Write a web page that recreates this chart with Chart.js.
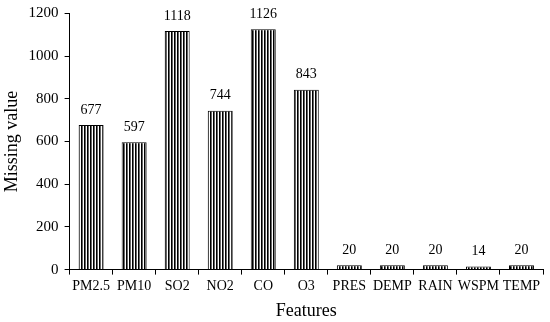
<!DOCTYPE html>
<html>
<head>
<meta charset="utf-8">
<script src="https://cdn.jsdelivr.net/npm/chart.js@4.4.1/dist/chart.umd.min.js"></script>
<style>
  html, body { margin: 0; padding: 0; background: #fff; }
  #wrap { width: 550px; height: 322px; }
</style>
</head>
<body>
<div id="wrap"><canvas id="chart"></canvas></div>
<script>
// chart data
const features = ['PM2.5', 'PM10', 'SO2', 'NO2', 'CO', 'O3', 'PRES', 'DEMP', 'RAIN', 'WSPM', 'TEMP'];
const missingValues = [677, 597, 1118, 744, 1126, 843, 20, 20, 20, 14, 20];
const yTicks = [0, 200, 400, 600, 800, 1000, 1200];

const serif = '"Liberation Serif", "Times New Roman", serif';

// vertical stripe fill
function stripePattern(ctx) {
    const c = document.createElement('canvas');
    c.width = 3;
    c.height = 8;
    const p = c.getContext('2d');
    p.fillStyle = '#fff';
    p.fillRect(0, 0, 3, 8);
    p.fillStyle = '#000';
    p.fillRect(0, 0, 1, 8);
    p.fillStyle = '#666';
    p.fillRect(1, 0, 1, 8);
    return ctx.createPattern(c, 'repeat');
}

// value labels above bars
const valueLabels = {
    id: 'valueLabels',
    afterDatasetsDraw(chart) {
        const ctx = chart.ctx;
        const meta = chart.getDatasetMeta(0);
        ctx.save();
        ctx.font = '14px ' + serif;
        ctx.fillStyle = '#000';
        ctx.textAlign = 'center';
        ctx.textBaseline = 'bottom';
        meta.data.forEach((bar, i) => {
            ctx.fillText(String(missingValues[i]), bar.x, bar.y - 8);
        });
        ctx.restore();
    }
};

const canvas = document.getElementById('chart');
const ctx = canvas.getContext('2d');

new Chart(canvas, {
    type: 'bar',
    data: {
        labels: features,
        datasets: [{
            data: missingValues,
            backgroundColor: stripePattern(ctx),
            borderColor: '#000',
            borderWidth: 1,
            categoryPercentage: 1,
            barPercentage: 0.58
        }]
    },
    options: {
        responsive: true,
        maintainAspectRatio: false,
        animation: false,
        layout: { padding: { top: 0, right: 7, left: 1, bottom: 0 } },
        plugins: {
            legend: { display: false },
            tooltip: { enabled: false }
        },
        scales: {
            x: {
                offset: true,
                grid: {
                    offset: true,
                    drawOnChartArea: false,
                    drawTicks: true,
                    tickLength: 5,
                    color: '#000'
                },
                border: { color: '#000', width: 1 },
                ticks: {
                    color: '#000',
                    font: { family: serif, size: 14 },
                    padding: 3,
                    maxRotation: 0,
                    autoSkip: false
                },
                title: {
                    display: true,
                    text: 'Features',
                    color: '#000',
                    font: { family: serif, size: 18 },
                    padding: { top: 3, bottom: 0 }
                }
            },
            y: {
                min: 0,
                max: 1200,
                afterBuildTicks: axis => {
                    axis.ticks = yTicks.map(v => ({ value: v }));
                },
                grid: {
                    drawOnChartArea: false,
                    drawTicks: true,
                    tickLength: 5,
                    color: '#000'
                },
                border: { color: '#000', width: 1 },
                ticks: {
                    color: '#000',
                    font: { family: serif, size: 15, lineHeight: 1 },
                    padding: 6,
                    callback: v => String(v)
                },
                title: {
                    display: true,
                    text: 'Missing value',
                    color: '#000',
                    font: { family: serif, size: 18 },
                    padding: { top: 0, bottom: 0 }
                }
            }
        }
    },
    plugins: [valueLabels]
});
</script>
</body>
</html>
